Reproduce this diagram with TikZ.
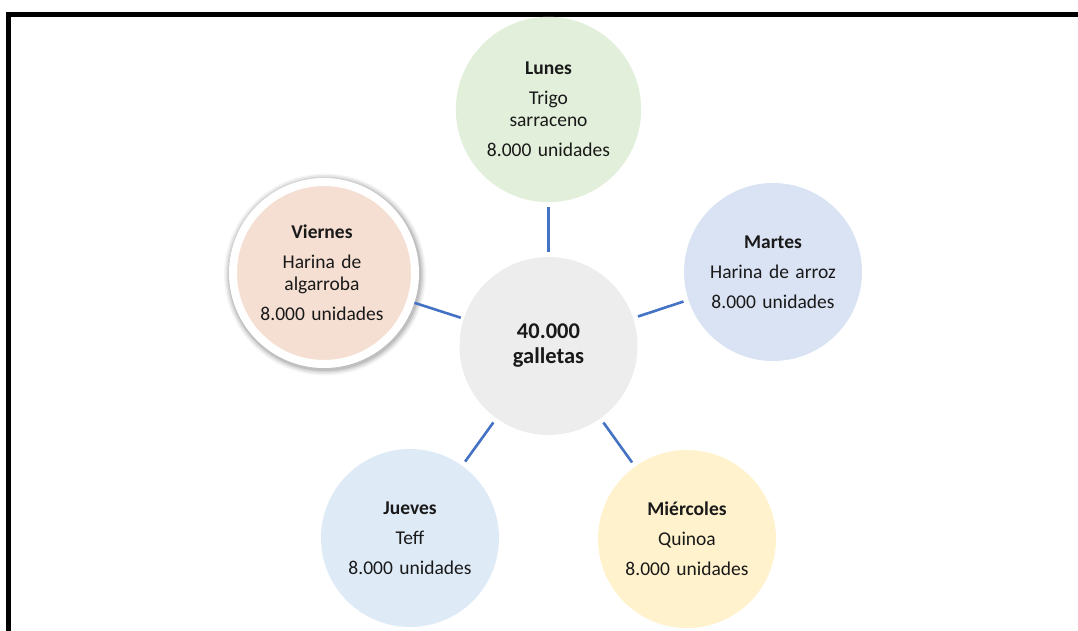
\documentclass[tikz,border=0pt]{standalone}
\usepackage{fontspec}
\setmainfont{Carlito}
\definecolor{linkblue}{HTML}{4472C4}
\definecolor{lunesfill}{HTML}{E2EFDA}
\definecolor{martesfill}{HTML}{DAE3F3}
\definecolor{miercolesfill}{HTML}{FFF2CC}
\definecolor{juevesfill}{HTML}{DEEBF7}
\definecolor{hubfill}{HTML}{EDEDED}
\definecolor{peachin}{HTML}{F5DFD2}
\definecolor{peachout}{HTML}{E6C8B7}
\pgfdeclareradialshading{peachball}{\pgfpoint{0bp}{0bp}}{%
  color(0bp)=(peachin); color(38bp)=(peachin); color(50bp)=(peachout)}
\newcommand{\daytext}{\fontsize{19.5}{22}\selectfont}
\newcommand{\hubtext}{\fontsize{22.5}{25}\selectfont\bfseries}
\begin{document}
\begin{tikzpicture}[x=1pt,y=-1pt,
  day/.style={circle, minimum size=178pt, inner sep=0pt, align=center,
    text width=160pt, font=\daytext, text=black!90},
  hub/.style={circle, minimum size=178pt, inner sep=0pt, align=center,
    fill=hubfill, font=\hubtext, text=black!90},
  link/.style={draw=linkblue, line width=2.6pt, shorten <=5pt, shorten >=5pt}]
  \useasboundingbox (0,0) rectangle (1078,631);
  % frame (open at right and bottom)
  \draw[line width=5pt, line join=miter] (8.5,631) -- (8.5,14.5) -- (1078,14.5);

  % central node
  \node[hub] (hub) at (548.5,346) {40.000\\galletas};

  % weekday nodes
  \node[day, fill=lunesfill] (lunes) at (548.5,109.5)
    {\textbf{Lunes}\\[8pt]Trigo\\sarraceno\\[8pt]8.000 unidades};
  \node[day, fill=martesfill] (martes) at (773,272)
    {\textbf{Martes}\\[8pt]Harina de arroz\\[8pt]8.000 unidades};
  \node[day, fill=miercolesfill] (miercoles) at (687,539)
    {\textbf{Miércoles}\\[8pt]Quinoa\\[8pt]8.000 unidades};
  \node[day, fill=juevesfill] (jueves) at (410,538)
    {\textbf{Jueves}\\[8pt]Teff\\[8pt]8.000 unidades};

  % highlighted node: soft shadow, white ring, shaded fill
  \foreach \r/\o in {101/0.04,99.5/0.06,98/0.08,96.5/0.10}
    \fill[black, opacity=\o] (325,274.5) circle (\r pt);
  \node[circle, minimum size=182pt, inner sep=0pt, shading=peachball,
    draw=white, line width=8pt] (viernesring) at (324,273) {};
  \node[day, minimum size=190pt] (viernes) at (322,273)
    {\textbf{Viernes}\\[8pt]Harina de\\algarroba\\[8pt]8.000 unidades};

  % connectors
  \draw[link] (hub) -- (lunes);
  \draw[link] (hub) -- (martes);
  \draw[link] (hub) -- (miercoles);
  \draw[link] (hub) -- (jueves);
  \draw[link, shorten <=3pt, shorten >=2pt] (hub) -- (viernes);
\end{tikzpicture}
\end{document}
